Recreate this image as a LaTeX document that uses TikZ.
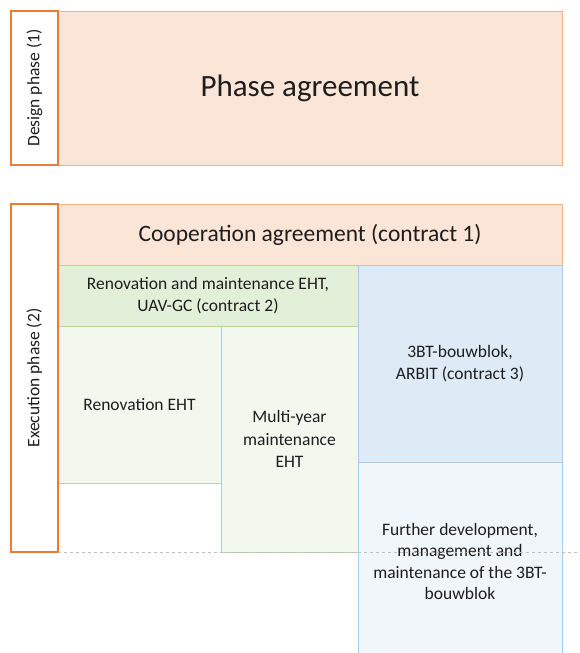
\documentclass[tikz,border=0pt]{standalone}
\usepackage{fontspec}
\setmainfont{Carlito}
\usepackage{tikz}
\usetikzlibrary{positioning}

\definecolor{peachfill}{HTML}{FBE5D6}
\definecolor{peachline}{HTML}{F4B183}
\definecolor{orangeline}{HTML}{ED7D31}
\definecolor{greenfill}{HTML}{E2F0D9}
\definecolor{greenpale}{HTML}{F2F8EE}
\definecolor{greenline}{HTML}{B4D79C}
\definecolor{bluefill}{HTML}{DEEBF7}
\definecolor{bluepale}{HTML}{F1F6FB}
\definecolor{blueline}{HTML}{A9CBEA}
\definecolor{textgray}{HTML}{1E1E1E}

\tikzset{
    block/.style={rectangle, inner sep=0, outer sep=0, anchor=north west, align=center,
        text=textgray, font=\fontsize{17.5}{22.5}\selectfont, line width=1pt},
    phaselbl/.style={block, draw=orangeline, fill=white, line width=1.1pt, anchor=center, rotate=90},
    peachbox/.style={block, draw=peachline, fill=peachfill},
    greenbox/.style={block, draw=greenline, fill=greenfill},
    greenpalebox/.style={block, draw=greenline, fill=greenpale},
    bluebox/.style={block, draw=blueline, fill=bluefill},
    bluepalebox/.style={block, draw=blueline, fill=bluepale},
    dashline/.style={draw=black!25, dashed, line width=0.8pt}
}

\begin{document}
\begin{tikzpicture}[x=1pt, y=-1pt]
    \clip (0,0) rectangle (579,653);

    % design phase
    \node[peachbox, minimum width=504, minimum height=154, font=\fontsize{31}{36}\selectfont] (phase) at (58,11) {Phase agreement};
    \node[phaselbl, minimum width=154, minimum height=47] (designlbl) at (34.5,88) {Design phase (1)};

    % execution phase
    \node[peachbox, minimum width=504, minimum height=61, font=\fontsize{23.5}{28}\selectfont] (coop) at (58,204) {Cooperation agreement (contract 1)};
    \node[greenbox, minimum width=300, minimum height=61] (renmaint) at (58,265) {Renovation and maintenance EHT,\\UAV-GC (contract 2)};
    \node[greenpalebox, minimum width=163, minimum height=157] (renov) at (58,326) {Renovation EHT};
    \node[greenpalebox, minimum width=137, minimum height=226] (multi) at (221,326) {Multi-year\\maintenance\\EHT};
    \node[bluebox, minimum width=204, minimum height=197] (bt) at (358,265) {3BT-bouwblok,\\ARBIT (contract 3)};
    \node[bluepalebox, minimum width=204, minimum height=199, font=\fontsize{17.5}{21.5}\selectfont] (further) at (358,462) {Further development,\\management and\\maintenance of the 3BT-\\bouwblok};
    \node[phaselbl, minimum width=348, minimum height=47] (execlbl) at (34.5,378) {Execution phase (2)};

    \coordinate (dashend) at (579,552);
    \draw[dashline] (execlbl.south west) -- (dashend);
\end{tikzpicture}
\end{document}
